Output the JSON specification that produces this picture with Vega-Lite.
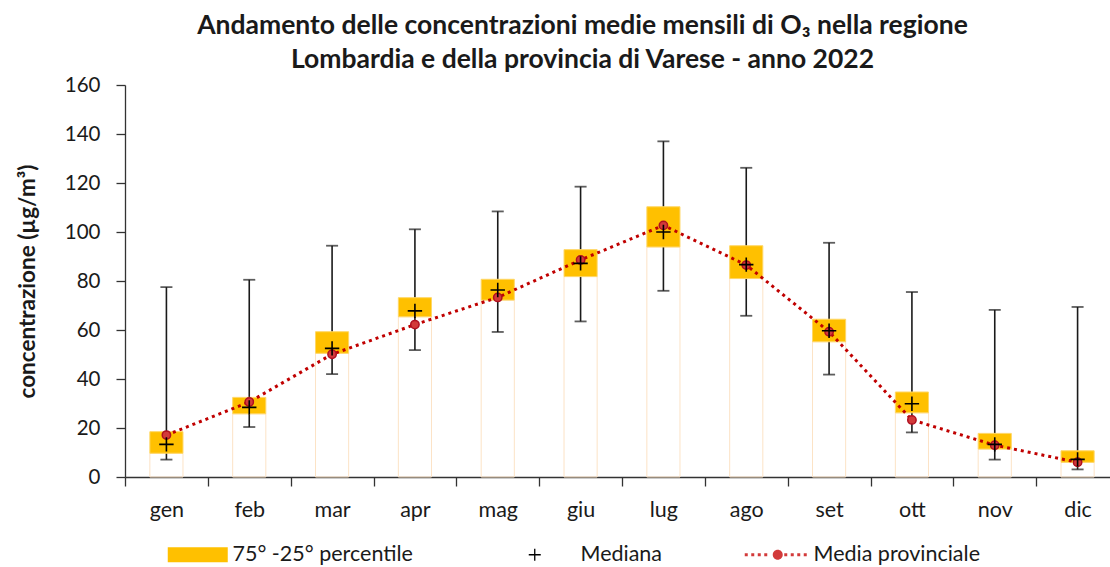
{
  "$schema": "https://vega.github.io/schema/vega-lite/v6.json",
  "autosize": "none",
  "width": 985,
  "height": 392,
  "padding": {"left": 125, "top": 85, "right": 0, "bottom": 90},
  "background": "white",
  "title": {
    "text": ["Andamento delle concentrazioni medie mensili di O₃ nella regione", "Lombardia e della provincia di Varese - anno 2022"],
    "font": "Lato", "fontSize": 26.5, "fontWeight": "bold", "color": "#1a1a1a",
    "anchor": "middle", "frame": "group", "dx": -35, "lineHeight": 34, "offset": 2
  },
  "config": {
    "view": {"stroke": null},
    "axis": {"labelFont": "Lato", "labelFontSize": 20.5, "labelColor": "#1a1a1a", "domainColor": "#333333", "tickColor": "#333333", "domainWidth": 1.3, "tickWidth": 1.3, "grid": false},
    "legend": {"labelFont": "Lato", "labelFontSize": 21.5, "labelColor": "#1a1a1a", "labelLimit": 400, "title": null}
  },
  "data": {"values": [
    {"mese": "gen", "min": 7.1, "q25": 9.7, "med": 13.3, "q75": 18.5, "max": 77.5, "media": 17.1},
    {"mese": "feb", "min": 20.4, "q25": 25.8, "med": 28.4, "q75": 32.5, "max": 80.5, "media": 30.6},
    {"mese": "mar", "min": 42, "q25": 50.5, "med": 52.5, "q75": 59.3, "max": 94.4, "media": 50.1},
    {"mese": "apr", "min": 51.8, "q25": 65.4, "med": 67.8, "q75": 73.2, "max": 101.1, "media": 62.2},
    {"mese": "mag", "min": 59.2, "q25": 72.2, "med": 76.3, "q75": 80.7, "max": 108.4, "media": 73.3},
    {"mese": "giu", "min": 63.5, "q25": 81.8, "med": 87.2, "q75": 92.8, "max": 118.5, "media": 88.6},
    {"mese": "lug", "min": 76, "q25": 93.9, "med": 100, "q75": 110.3, "max": 137, "media": 102.7},
    {"mese": "ago", "min": 65.8, "q25": 81, "med": 86.7, "q75": 94.4, "max": 126.2, "media": 86.5},
    {"mese": "set", "min": 41.8, "q25": 55.2, "med": 59.7, "q75": 64.4, "max": 95.6, "media": 59.3},
    {"mese": "ott", "min": 18.2, "q25": 26.2, "med": 29.9, "q75": 34.7, "max": 75.5, "media": 23.3},
    {"mese": "nov", "min": 7.1, "q25": 11.4, "med": 13.3, "q75": 17.8, "max": 68.2, "media": 13},
    {"mese": "dic", "min": 3.1, "q25": 6, "med": 7.2, "q75": 10.7, "max": 69.4, "media": 6}
  ]},
  "encoding": {
    "x": {
      "field": "mese", "type": "nominal", "sort": null,
      "scale": {"range": [0, 994], "paddingInner": 0, "paddingOuter": 0},
      "axis": {"title": null, "labelAngle": 0, "tickBand": "extent", "tickSize": 9, "labelPadding": 13, "labelFontSize": 21.5}
    }
  },
  "layer": [
    {
      "mark": {"type": "bar", "width": {"band": 0.4}, "fill": "transparent", "stroke": "#FCE3C6", "strokeWidth": 1},
      "encoding": {
        "y": {"field": "q25", "type": "quantitative", "scale": {"domain": [0, 160]},
              "axis": {"title": "concentrazione (µg/m³)", "titleFont": "Lato", "titleFontSize": 22.5, "titleFontWeight": "bold", "titleColor": "#1a1a1a", "titlePadding": 25, "values": [0, 20, 40, 60, 80, 100, 120, 140, 160], "tickSize": 9, "labelPadding": 16}}
      }
    },
    {
      "mark": {"type": "rule", "color": "#1a1a1a", "strokeWidth": 1.6},
      "encoding": {"y": {"field": "min", "type": "quantitative"}, "y2": {"field": "max"}}
    },
    {
      "mark": {"type": "tick", "color": "#1a1a1a", "size": 12, "thickness": 1.8, "orient": "horizontal"},
      "encoding": {"y": {"field": "min", "type": "quantitative"}}
    },
    {
      "mark": {"type": "tick", "color": "#1a1a1a", "size": 12, "thickness": 1.8, "orient": "horizontal"},
      "encoding": {"y": {"field": "max", "type": "quantitative"}}
    },
    {
      "mark": {"type": "bar", "width": {"band": 0.4}, "stroke": "#FFD766", "strokeWidth": 1},
      "encoding": {
        "y": {"field": "q25", "type": "quantitative"}, "y2": {"field": "q75"},
        "color": {"datum": "75° -25° percentile", "type": "nominal", "scale": {"range": ["#FFC000"]},
          "legend": {"orient": "none", "legendX": 65, "legendY": 459, "symbolType": "M-6.6,-1.5H5.4V1.5H-6.6Z", "symbolSize": 100, "symbolStrokeWidth": 0, "labelOffset": 21}}
      }
    },
    {
      "mark": {"type": "line", "color": "#C00000", "strokeWidth": 3, "strokeDash": [3, 4]},
      "encoding": {"y": {"field": "media", "type": "quantitative"}}
    },
    {
      "mark": {"type": "point", "filled": true, "size": 70, "stroke": "#B01020", "strokeWidth": 1.5, "opacity": 1},
      "encoding": {
        "y": {"field": "media", "type": "quantitative"},
        "fill": {"datum": "Media provinciale", "type": "nominal", "scale": {"range": ["#D23A3A"]},
          "legend": {"orient": "none", "legendX": 637, "legendY": 459, "symbolSize": 100, "symbolStrokeWidth": 0, "symbolFillColor": "#C00000", "labelOffset": 30,
            "symbolType": "M-5.6,-0.3h0.6v0.6h-0.6ZM-4.3,-0.3h0.6v0.6h-0.6ZM-3,-0.3h0.6v0.6h-0.6ZM-1.7,-0.3h0.6v0.6h-0.6ZM2.3,-0.3h0.6v0.6h-0.6ZM3.6,-0.3h0.6v0.6h-0.6ZM4.9,-0.3h0.6v0.6h-0.6ZM6.2,-0.3h0.6v0.6h-0.6ZM2,0A1,1,0,1,1,0,0A1,1,0,1,1,2,0Z"}}
      }
    },
    {
      "mark": {"type": "point", "shape": "M-1,0H1M0,-1V1", "size": 144, "filled": false, "color": "#000000", "strokeWidth": 1.6, "opacity": 1},
      "encoding": {
        "y": {"field": "med", "type": "quantitative"},
        "shape": {"datum": "Mediana", "type": "nominal", "scale": {"range": ["M-1.2,0H1.2M0,-1.2V1.2"]},
          "legend": {"orient": "none", "legendX": 399, "legendY": 459, "symbolSize": 100, "symbolStrokeWidth": 1.3, "symbolStrokeColor": "#000000", "symbolFillColor": "transparent", "labelOffset": 35,
            "symbolType": "M-6.2,0H-3.8M-5,-1.2V1.2"}}
      }
    }
  ]
}
